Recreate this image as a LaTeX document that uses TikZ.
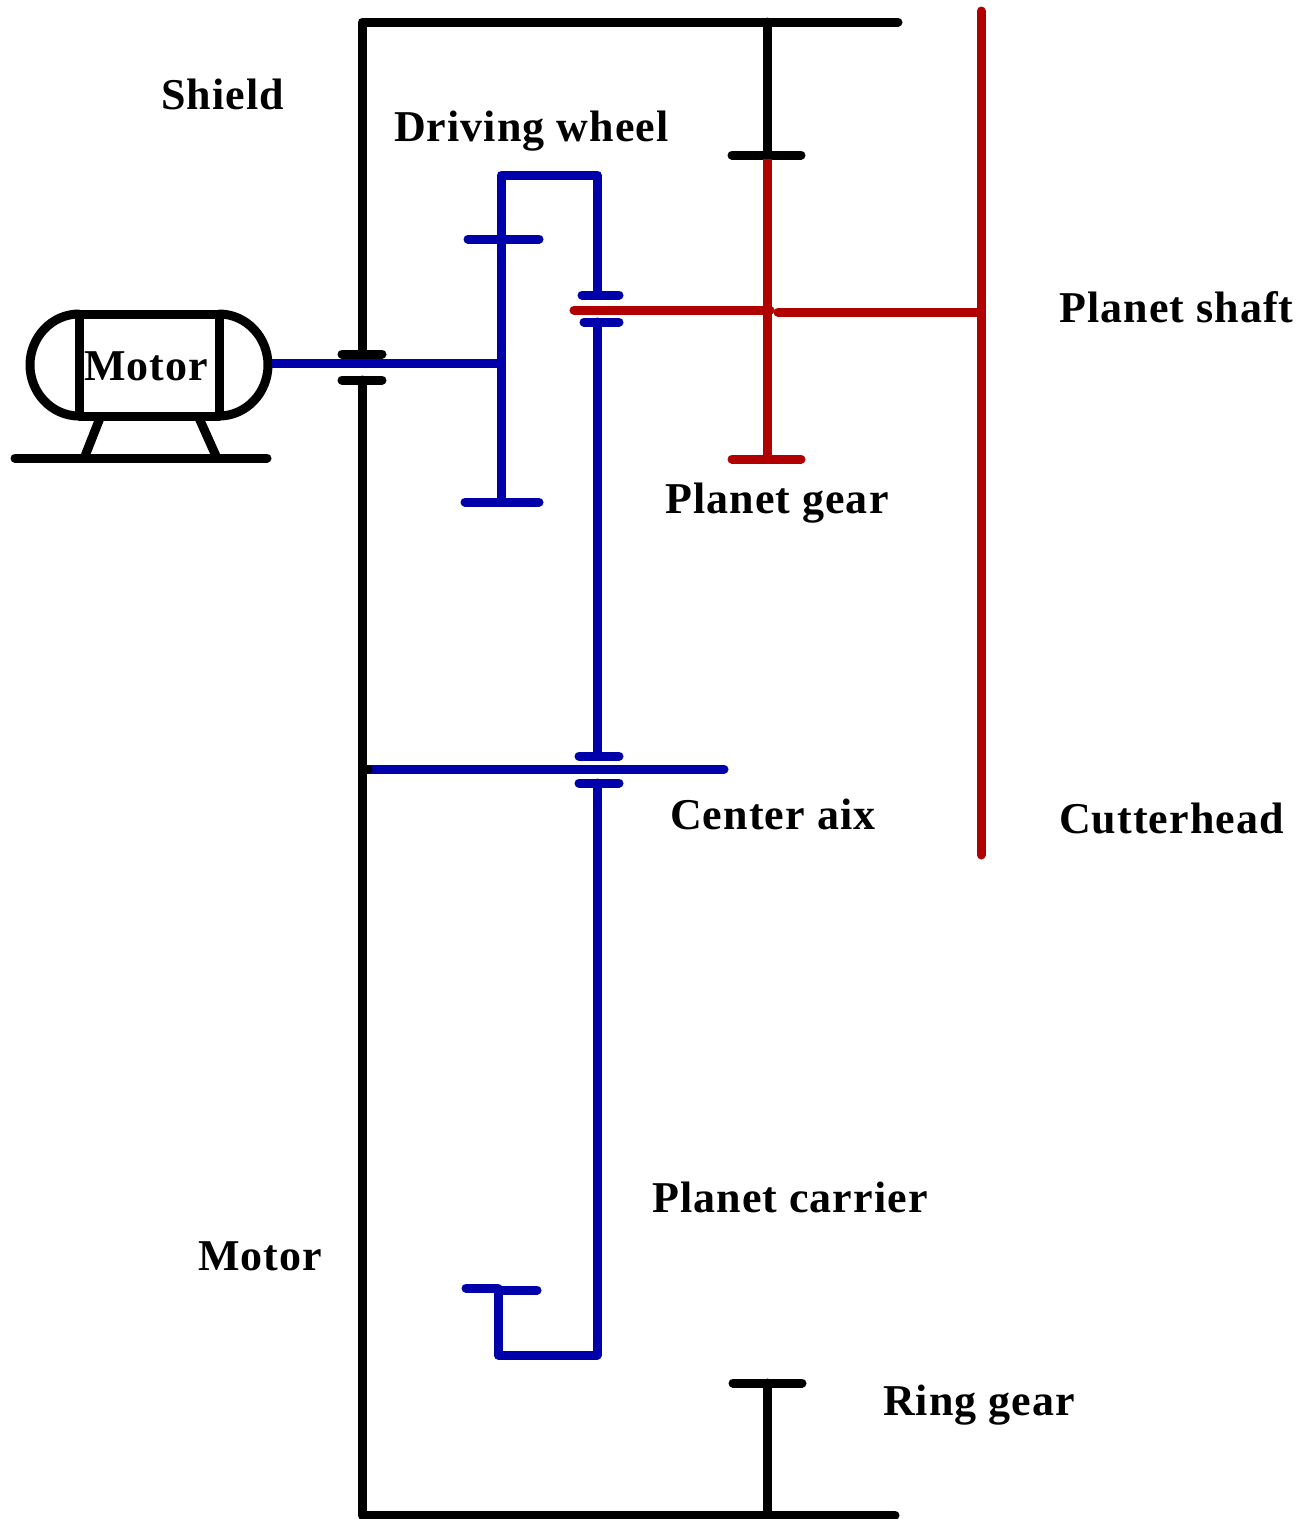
\documentclass[tikz,border=0pt]{standalone}
\usepackage{fontspec}
\setmainfont{Liberation Serif}[LetterSpace=2.4]
\definecolor{gblue}{RGB}{0,0,170}
\definecolor{gred}{RGB}{176,0,0}
\tikzset{
  line/.style={line width=9pt,line cap=round,line join=round},
  blk/.style={line,black},
  blu/.style={line,gblue},
  rd/.style={line,gred},
  lab/.style={inner sep=0pt,anchor=base west,font=\fontsize{44}{44}\selectfont\bfseries,black}
}
\begin{document}
\begin{tikzpicture}[x=1pt,y=-1pt]
\useasboundingbox (0,0) rectangle (1312,1519);
% coordinates
\coordinate (frameTL) at (362,22);
\coordinate (frameTR) at (898,22);
\coordinate (frameBL) at (362,1515);
\coordinate (frameBR) at (895,1515);
% black frame
\draw[blk] (frameTR) -- (frameTL) -- (362,353);
\draw[blk] (362,380) -- (frameBL) -- (frameBR);
\draw[blk] (767,22) -- (767,155);
\draw[blk] (732,155) -- (801,155);
\draw[blk] (733,1383) -- (802,1383);
\draw[blk] (767,1383) -- (767,1515);
% motor
\draw[blk] (79,314) rectangle (219,416);
\draw[blk] (79,314) .. controls (52,314) and (30,337) .. (30,365) .. controls (30,393) and (52,416) .. (79,416);
\draw[blk] (219,314) .. controls (246,314) and (268,337) .. (268,365) .. controls (268,393) and (246,416) .. (219,416);
\draw[blk,line cap=butt] (100,418) -- (85,456);
\draw[blk,line cap=butt] (199,418) -- (216,456);
\draw[blk] (15,458) -- (267,458);
% blue input
\draw[blk] (342,354) -- (382,354);
\draw[blk] (342,380) -- (382,380);
\draw[blu,line cap=butt] (272,363) -- (498,363);
% driving wheel
\draw[blu] (501,502) -- (501,175) -- (597,175) -- (597,295);
\draw[blu] (468,239) -- (539,239);
\draw[blu] (465,502) -- (539,502);
\draw[blu] (582,295) -- (619,295);
\draw[blu] (584,322) -- (619,322);
\draw[blu] (597,322) -- (597,756);
\draw[blu] (579,756) -- (619,756);
\draw[blu] (579,783) -- (619,783);
\draw[blu] (597,783) -- (597,1355) -- (498,1355) -- (498,1290);
\draw[blu] (466,1288) -- (498,1288);
\draw[blu] (498,1290) -- (537,1290);
% centre axis
\draw[blu] (366,769) -- (724,769);
\draw[blk] (364,769) -- (368,769);
% red
\draw[rd,line cap=butt] (767,159) -- (767,459);
\draw[rd] (732,459) -- (801,459);
\draw[rd] (574,310) -- (770,310);
\draw[rd] (778,312) -- (978,312);
\draw[rd] (981,11) -- (981,855);
% labels
\node[lab] (shield) at (161,109) {Shield};
\node[lab] (driving) at (394,141) {Driving wheel};
\node[lab] (motorA) at (84,380) {Motor};
\node[lab] (pshaft) at (1059,322) {Planet shaft};
\node[lab] (pgear) at (665,513) {Planet gear};
\node[lab] (caix) at (670,829) {Center aix};
\node[lab] (cutter) at (1059,833) {Cutterhead};
\node[lab] (pcarrier) at (652,1212) {Planet carrier};
\node[lab] (motorB) at (198,1270) {Motor};
\node[lab] (ring) at (883,1415) {Ring gear};
\end{tikzpicture}
\end{document}
